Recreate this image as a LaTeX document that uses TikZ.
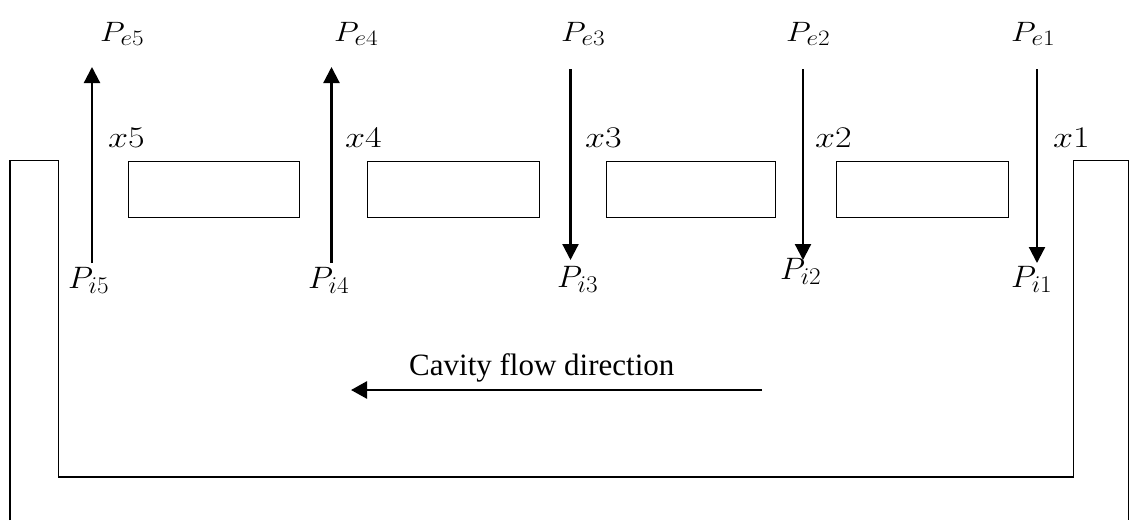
\RequirePackage{fix-cm}
\documentclass[tikz,border=0pt]{standalone}
\usepackage{fontspec}
\usepackage{graphicx}
\newfontfamily\cavfont{Liberation Serif}
\usetikzlibrary{arrows.meta}
\DeclareMathSizes{28}{28}{22}{17}
\DeclareMathSizes{31}{31}{24}{19}
\DeclareMathSizes{30}{30}{23}{18}
\begin{document}
\begin{tikzpicture}[x=1pt,y=1pt,
  wall/.style={line width=1.5pt},
  blk/.style={draw, line width=1.3pt, minimum width=#1, minimum height=56pt, inner sep=0pt, anchor=north west},
  flow/.style={line width=2.2pt, -{Triangle[length=16pt,width=16pt]}},
  cavarrow/.style={line width=2.6pt, -{Triangle[length=16pt,width=17pt]}},
  pe/.style={anchor=base west, inner sep=0pt, font=\fontsize{28}{34}\selectfont},
  pi/.style={anchor=base west, inner sep=0pt, font=\fontsize{31}{36}\selectfont},
  xl/.style={anchor=base west, inner sep=0pt, font=\fontsize{30}{36}\selectfont},
  cav/.style={anchor=base west, inner sep=0pt, font=\cavfont\fontsize{31}{36}\selectfont},
]
\useasboundingbox (0,0) rectangle (1130,-520);

% cavity walls
\draw[wall] (10,-520) -- (10,-160.5) -- (58.3,-160.5) -- (58.3,-477)
  -- (1073.5,-477) -- (1073.5,-160.5) -- (1128.3,-160.5) -- (1128.3,-520);

% blocks
\node[blk=171pt] (b1) at (128,-160.5) {};
\node[blk=172pt] (b2) at (366.5,-160.5) {};
\node[blk=169.5pt] (b3) at (605.5,-160.5) {};
\node[blk=171.5pt] (b4) at (836,-160.5) {};

% labels top
\node[pe] (pe5) at (100,-41) {\scalebox{1.15}[1]{$P_{e5}$}};
\node[pe] (pe4) at (334,-41) {\scalebox{1.15}[1]{$P_{e4}$}};
\node[pe] (pe3) at (561,-41) {\scalebox{1.15}[1]{$P_{e3}$}};
\node[pe] (pe2) at (786,-41) {\scalebox{1.15}[1]{$P_{e2}$}};
\node[pe] (pe1) at (1011,-41) {\scalebox{1.15}[1]{$P_{e1}$}};

% x labels
\node[xl] (x5) at (108,-147) {\scalebox{1.2}[1]{$x5$}};
\node[xl] (x4) at (345,-147) {\scalebox{1.2}[1]{$x4$}};
\node[xl] (x3) at (585,-147) {\scalebox{1.2}[1]{$x3$}};
\node[xl] (x2) at (815,-147) {\scalebox{1.2}[1]{$x2$}};
\node[xl] (x1) at (1053,-147) {\scalebox{1.2}[1]{$x1$}};

% bottom labels
\node[pi] (pi5) at (68,-288) {\scalebox{1.05}[1]{$P_{i5}$}};
\node[pi] (pi4) at (308,-288) {\scalebox{1.05}[1]{$P_{i4}$}};
\node[pi] (pi3) at (557,-287) {\scalebox{1.05}[1]{$P_{i3}$}};
\node[pi] (pi2) at (780,-279) {\scalebox{1.05}[1]{$P_{i2}$}};
\node[pi] (pi1) at (1011,-287) {\scalebox{1.05}[1]{$P_{i1}$}};

% arrow end points
\coordinate (a5s) at (92,-263);   \coordinate (a5e) at (92,-67);
\coordinate (a4s) at (331.5,-263); \coordinate (a4e) at (331.5,-67);
\coordinate (a3s) at (570.5,-69); \coordinate (a3e) at (570.5,-260);
\coordinate (a2s) at (803,-69);   \coordinate (a2e) at (803,-260);
\coordinate (a1s) at (1037,-69);  \coordinate (a1e) at (1037,-263);

\draw[flow] (a5s) -- (a5e);
\draw[flow] (a4s) -- (a4e);
\draw[flow] (a3s) -- (a3e);
\draw[flow] (a2s) -- (a2e);
\draw[flow] (a1s) -- (a1e);

% cavity flow
\node[cav] (cavtxt) at (409,-375) {Cavity flow direction};
\coordinate (cfs) at (762,-390);
\coordinate (cfe) at (351,-390);
\draw[cavarrow] (cfs) -- (cfe);
\end{tikzpicture}
\end{document}
